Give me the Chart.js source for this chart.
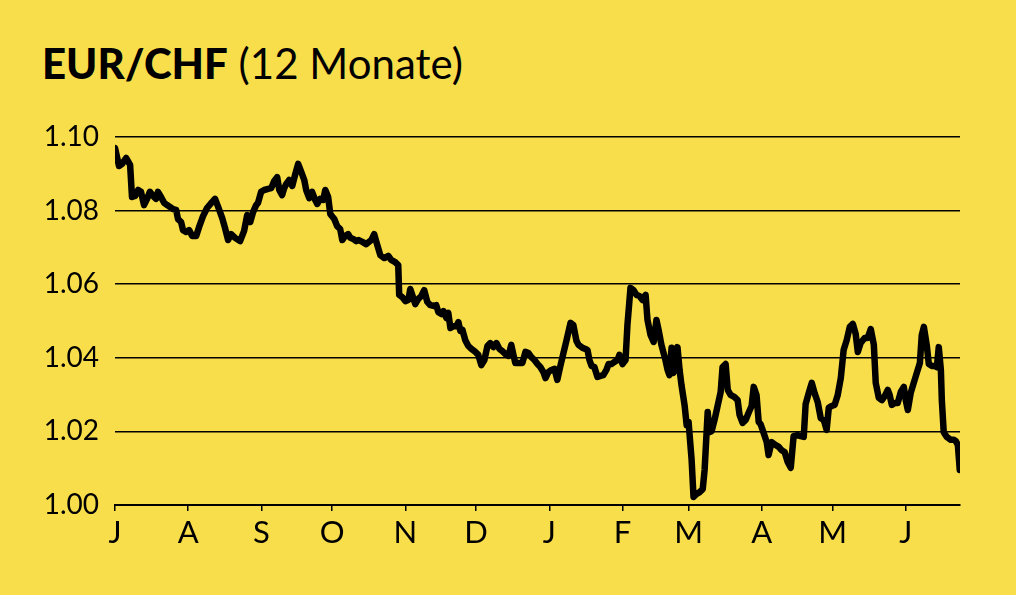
<!DOCTYPE html>
<html>
<head>
<meta charset="utf-8">
<script src="https://cdn.jsdelivr.net/npm/chart.js@4/dist/chart.umd.min.js"></script>
<style>
  html, body { margin: 0; padding: 0; background: #F8DE4B; }
  #wrap { position: relative; width: 1016px; height: 595px; }
  #title { position: absolute; left: 42px; top: 38px; font-family: Lato, sans-serif; font-size: 42px; color: #000; white-space: nowrap; }
  #title b { font-weight: 900; }
  canvas { position: absolute; left: 0; top: 0; }
</style>
</head>
<body>
<div id="wrap">
  <div id="title"><b>EUR/CHF</b> (12 Monate)</div>
  <canvas id="fxChart" width="1016" height="595"></canvas>
</div>
<script>
// Days since 1 July (x) and EUR/CHF rate (y)
const days = [
  0, 1.7, 3.0, 4.7, 6.4, 7.2, 8.5, 9.8, 11.0, 12.3, 13.6, 14.8, 16.1, 17.4, 18.2, 19.5,
  20.8, 22.1, 23.3, 24.6, 25.9, 26.7, 28.0, 28.8, 30.1, 31.4, 32.7, 34.4, 35.6, 37.3, 39.0,
  41.1, 42.4, 43.7, 45.4, 46.6, 47.9, 49.2, 50.9, 53.0, 54.7, 56.0, 57.3, 58.5, 59.8, 60.6,
  61.9, 63.2, 64.9, 66.2, 67.4, 68.7, 69.6, 70.8, 71.7, 72.5, 73.8, 75.1, 76.3, 77.6, 78.9,
  80.2, 81.0, 82.3, 83.5, 84.8, 85.7, 86.9, 88.2, 89.1, 90.3, 91.2, 92.9, 94.1, 95.4, 96.3,
  97.5, 98.8, 99.7, 100.9, 102.2, 103.1, 104.8, 106.4, 108.6, 109.8, 111.1, 112.4, 114.1,
  115.8, 117.0, 118.7, 120.0, 120.4, 121.7, 123.0, 124.3, 125.1, 126.4, 127.2, 128.5, 129.8,
  131.0, 132.3, 133.6, 134.9, 136.1, 137.0, 138.3, 139.1, 140.4, 141.2, 142.1, 143.3, 144.6,
  145.5, 146.3, 147.2, 148.4, 149.7, 151.0, 152.7, 153.9, 155.2, 156.5, 157.8, 159.0, 160.3,
  161.6, 162.9, 164.1, 165.4, 166.7, 167.9, 168.8, 169.6, 171.3, 172.6, 173.9, 175.2, 176.4,
  177.7, 179.0, 180.2, 181.5, 182.4, 183.6, 184.9, 186.2, 187.4, 188.7, 190.0, 191.3, 193.0,
  194.2, 195.5, 196.4, 198.1, 199.3, 200.2, 201.0, 201.9, 203.1, 204.4, 205.7, 206.9, 208.2,
  209.1, 210.3, 211.6, 212.9, 213.7, 215.0, 216.3, 217.1, 218.4, 219.7, 220.9, 222.2, 223.5,
  224.8, 225.6, 226.9, 228.2, 229.4, 230.3, 231.5, 233.2, 234.1, 234.9, 235.8, 236.6, 237.1,
  238.3, 239.2, 240.0, 241.3, 242.2, 243.0, 244.3, 245.1, 246.4, 247.7, 249.0, 249.8, 251.1,
  251.9, 252.8, 254.0, 255.3, 256.6, 257.4, 258.7, 259.6, 260.8, 262.5, 263.8, 264.6, 265.9,
  267.2, 268.4, 269.7, 270.6, 271.8, 272.7, 273.5, 274.8, 276.1, 276.9, 278.2, 279.9, 281.2,
  282.4, 283.7, 285.0, 286.3, 287.5, 289.2, 290.5, 291.8, 292.6, 293.9, 295.2, 296.4, 297.7,
  299.0, 300.3, 301.5, 302.4, 303.6, 304.9, 306.2, 307.5, 308.7, 310.0, 311.3, 312.6, 313.8,
  314.7, 315.9, 317.6, 318.9, 320.2, 321.5, 322.3, 323.6, 324.9, 326.1, 327.4, 328.2, 329.1,
  330.4, 331.6, 332.9, 334.2, 335.0, 335.9, 337.1, 338.4, 339.7, 341.0, 341.8, 342.7, 343.9,
  344.8, 346.0, 347.3, 348.2, 349.0, 349.9, 350.3, 351.1, 352.4, 354.1, 355.4, 356.2, 357.1, 357.9
];
const rates = [
  1.0970, 1.0921, 1.0927, 1.0943, 1.0924, 1.0837, 1.0840, 1.0856, 1.0851, 1.0815, 1.0832, 1.0851, 1.0840, 1.0832, 1.0851, 1.0837,
  1.0821, 1.0815, 1.0810, 1.0804, 1.0802, 1.0777, 1.0769, 1.0747, 1.0742, 1.0747, 1.0731, 1.0731, 1.0755, 1.0785, 1.0807,
  1.0823, 1.0832, 1.0810, 1.0780, 1.0753, 1.0720, 1.0736, 1.0726, 1.0717, 1.0745, 1.0788, 1.0769, 1.0796, 1.0815, 1.0821,
  1.0851, 1.0856, 1.0859, 1.0861, 1.0880, 1.0891, 1.0856, 1.0842, 1.0861, 1.0872, 1.0883, 1.0867, 1.0897, 1.0927, 1.0905,
  1.0883, 1.0856, 1.0834, 1.0851, 1.0829, 1.0818, 1.0832, 1.0829, 1.0856, 1.0837, 1.0791, 1.0777, 1.0758, 1.0750, 1.0720,
  1.0731, 1.0736, 1.0726, 1.0723, 1.0717, 1.0720, 1.0715, 1.0709, 1.0720, 1.0736, 1.0707, 1.0679, 1.0671,
  1.0677, 1.0666, 1.0660, 1.0652, 1.0571, 1.0565, 1.0554, 1.0557, 1.0587, 1.0562, 1.0546, 1.0560, 1.0568,
  1.0584, 1.0552, 1.0543, 1.0541, 1.0543, 1.0524, 1.0519, 1.0527, 1.0508, 1.0522, 1.0481, 1.0486, 1.0486,
  1.0497, 1.0473, 1.0476, 1.0448, 1.0432, 1.0424, 1.0416, 1.0408, 1.0380, 1.0394, 1.0432, 1.0440, 1.0429,
  1.0440, 1.0424, 1.0418, 1.0410, 1.0405, 1.0435, 1.0408, 1.0386, 1.0386, 1.0386, 1.0416, 1.0413, 1.0402,
  1.0394, 1.0383, 1.0375, 1.0361, 1.0345, 1.0361, 1.0367, 1.0370, 1.0340, 1.0378, 1.0413, 1.0448, 1.0495,
  1.0489, 1.0446, 1.0435, 1.0427, 1.0424, 1.0421, 1.0394, 1.0378, 1.0375, 1.0348, 1.0351, 1.0353, 1.0367,
  1.0383, 1.0383, 1.0389, 1.0394, 1.0408, 1.0383, 1.0394, 1.0489, 1.0590, 1.0584, 1.0571, 1.0568, 1.0557,
  1.0571, 1.0503, 1.0462, 1.0443, 1.0503, 1.0476, 1.0435, 1.0394, 1.0367, 1.0353, 1.0427, 1.0359, 1.0367,
  1.0429, 1.0367, 1.0326, 1.0272, 1.0217, 1.0226, 1.0122, 1.0022, 1.0030, 1.0035, 1.0043, 1.0095, 1.0253,
  1.0198, 1.0201, 1.0231, 1.0269, 1.0307, 1.0375, 1.0383, 1.0313, 1.0299, 1.0293, 1.0285, 1.0245, 1.0223,
  1.0231, 1.0250, 1.0269, 1.0321, 1.0299, 1.0226, 1.0220, 1.0196, 1.0171, 1.0136, 1.0171, 1.0163, 1.0158,
  1.0149, 1.0144, 1.0117, 1.0101, 1.0187, 1.0190, 1.0187, 1.0185, 1.0274, 1.0304, 1.0332, 1.0304, 1.0280,
  1.0236, 1.0231, 1.0204, 1.0264, 1.0269, 1.0272, 1.0299, 1.0345, 1.0421, 1.0448, 1.0484, 1.0492, 1.0465,
  1.0416, 1.0440, 1.0454, 1.0454, 1.0478, 1.0435, 1.0332, 1.0291, 1.0285, 1.0296, 1.0313, 1.0299, 1.0272,
  1.0277, 1.0277, 1.0307, 1.0321, 1.0285, 1.0258, 1.0304, 1.0332, 1.0359, 1.0386, 1.0462, 1.0484, 1.0435,
  1.0383, 1.0378, 1.0378, 1.0375, 1.0429, 1.0367, 1.0285, 1.0198, 1.0185, 1.0177, 1.0177, 1.0174, 1.0163, 1.0095
];

// Month starts (days since 1 July) and their labels
const monthStarts = [0, 31, 62, 92, 123, 153, 184, 215, 243, 274, 304, 335];
const monthLabels = ['J', 'A', 'S', 'O', 'N', 'D', 'J', 'F', 'M', 'A', 'M', 'J'];
const lastDay = 358;

const points = days.map((d, i) => ({ x: d, y: rates[i] }));

const config = {
  type: 'line',
  data: {
    datasets: [{
      data: points,
      borderColor: '#000',
      borderWidth: 6.5,
      pointRadius: 0,
      tension: 0,
      borderJoinStyle: 'round',
      borderCapStyle: 'round',
      fill: false
    }]
  },
  options: {
    responsive: false,
    animation: false,
    layout: { padding: { top: 137, right: 56, left: 0, bottom: 0 } },
    plugins: { legend: { display: false }, tooltip: { enabled: false } },
    scales: {
      x: {
        type: 'linear',
        min: 0,
        max: lastDay,
        afterBuildTicks: axis => { axis.ticks = monthStarts.map(v => ({ value: v })); },
        afterFit: axis => { axis.height = 90; },
        ticks: {
          autoSkip: false,
          maxRotation: 0,
          padding: 3,
          color: '#000',
          font: { family: 'Lato', size: 31 },
          callback: (v, i) => monthLabels[i]
        },
        grid: { drawOnChartArea: false, drawTicks: true, tickLength: 6, color: '#000', lineWidth: 1.5 },
        border: { display: true, color: '#000', width: 2 }
      },
      y: {
        min: 1.00,
        max: 1.10,
        afterFit: axis => { axis.width = 115; },
        ticks: {
          stepSize: 0.02,
          padding: 16,
          color: '#000',
          font: { family: 'Lato', size: 28 },
          callback: v => v.toFixed(2)
        },
        grid: { drawTicks: false, color: '#000', lineWidth: 1.5 },
        border: { display: false }
      }
    }
  }
};

const ctx = document.getElementById('fxChart').getContext('2d');
new Chart(ctx, config);
</script>
</body>
</html>
